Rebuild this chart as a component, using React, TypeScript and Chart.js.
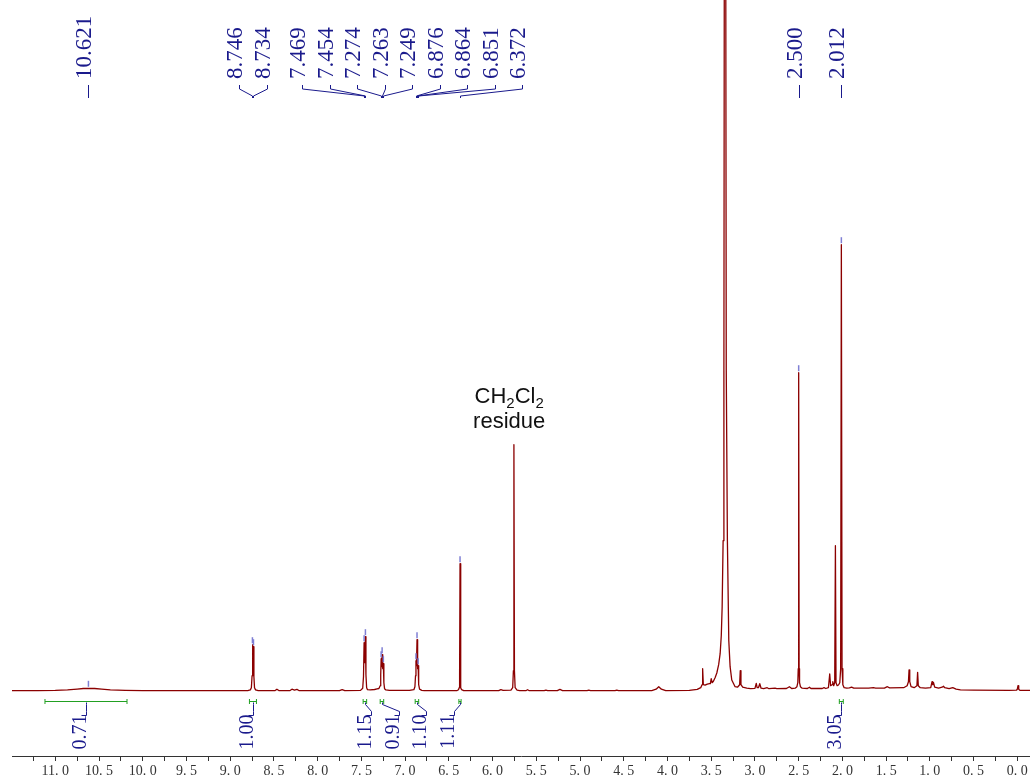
import React, { useEffect, useRef } from "react";
import { Chart, registerables } from "chart.js";

Chart.register(...registerables);

// ---------------- DATA ----------------
// Spectrum: [ppm, intensity]; intensity unit ~ 1 px above baseline
const REGION_DOWNFIELD: [number, number][] = [
  [11.6, 0], [11.2, 0], [11.0, 0.3], [10.86, 0.8], [10.75, 1.6], [10.68, 2.2], [10.62, 2.4],
  [10.55, 2.2], [10.47, 1.6], [10.37, 0.8], [10.2, 0.3], [10.0, 0], [9.0, 0],
];

const REGION_AROMATIC: [number, number][] = [
  [8.8, 0], [8.77, 0.8], [8.758, 3], [8.75, 15], [8.746, 46], [8.74, 30], [8.734, 44], [8.729, 14],
  [8.722, 3], [8.71, 0.8], [8.68, 0],
  [8.49, 0], [8.466, 1.5], [8.44, 0],
  [8.32, 0], [8.294, 1.5], [8.265, 0.6], [8.237, 1.3], [8.21, 0],
  [7.75, 0], [7.72, 1], [7.69, 0],
  [7.51, 0.3], [7.485, 2.5], [7.476, 14], [7.469, 48], [7.462, 28], [7.454, 54], [7.448, 16],
  [7.44, 3], [7.43, 1], [7.4, 0.8], [7.35, 1.2], [7.32, 1.8], [7.3, 2.2], [7.285, 5], [7.279, 16],
  [7.274, 32], [7.269, 24], [7.263, 36], [7.256, 22], [7.249, 27], [7.243, 8], [7.235, 2],
  [7.22, 0.8], [7.18, 0.3],
  [6.95, 0.3], [6.9, 1], [6.888, 4], [6.881, 15], [6.876, 30], [6.87, 25], [6.864, 51], [6.857, 22],
  [6.851, 25], [6.845, 6], [6.835, 1.5], [6.81, 0.4], [6.78, 0],
  [6.41, 0], [6.39, 1], [6.382, 3], [6.377, 18], [6.372, 127], [6.367, 18], [6.362, 3], [6.354, 1],
  [6.33, 0],
];

const REGION_MIDFIELD: [number, number][] = [
  [5.93, 0], [5.905, 1], [5.88, 0.3], [5.79, 0.6], [5.77, 3], [5.762, 20], [5.756, 246], [5.75, 20],
  [5.742, 3], [5.72, 0.5], [5.69, 0],
  [5.62, 0], [5.6, 1], [5.58, 0],
  [5.41, 0], [5.39, 0.5], [5.37, 0],
  [5.26, 0], [5.23, 1.3], [5.2, 0],
  [4.92, 0], [4.9, 0.5], [4.88, 0],
  [4.6, 0], [4.58, 0.5], [4.56, 0],
  [4.18, 0], [4.13, 1.5], [4.1, 4], [4.07, 1.5], [4.02, 0],
  [3.75, 0.3], [3.66, 1.3], [3.62, 3], [3.605, 6], [3.598, 22], [3.59, 6], [3.57, 5.5],
  [3.545, 6.5], [3.52, 7], [3.51, 7], [3.5, 12], [3.49, 8], [3.475, 9.5], [3.456, 13],
  [3.436, 17.7], [3.415, 26], [3.398, 37], [3.385, 55], [3.375, 84], [3.364, 150], [3.355, 320],
  [3.343, 1400], [3.328, 320], [3.315, 150], [3.299, 50], [3.284, 24], [3.265, 10.7], [3.227, 4],
  [3.2, 3.5], [3.175, 6], [3.168, 20], [3.16, 6], [3.14, 3.5],
];

const REGION_UPFIELD: [number, number][] = [
  [3.093, 2.5], [3.05, 2], [3.0, 2.3], [2.985, 7.4], [2.975, 3], [2.96, 3], [2.945, 7], [2.93, 2.5],
  [2.9, 2], [2.86, 3], [2.84, 2], [2.77, 2.5], [2.75, 2], [2.64, 2.2], [2.606, 4], [2.58, 2.2],
  [2.54, 2.5], [2.52, 4], [2.51, 8], [2.505, 22], [2.5, 318], [2.495, 22], [2.49, 8], [2.48, 4],
  [2.46, 2.5], [2.4, 2.2], [2.377, 3.5], [2.36, 2.2], [2.23, 2.2], [2.21, 3], [2.19, 2.2],
  [2.16, 3], [2.145, 16.7], [2.135, 5], [2.118, 6], [2.11, 9], [2.1, 5], [2.088, 8], [2.08, 145],
  [2.073, 8], [2.06, 5], [2.045, 5.7], [2.03, 8], [2.02, 22], [2.012, 446], [2.004, 22],
  [1.995, 6], [1.98, 3], [1.95, 2.5], [1.92, 2.8], [1.895, 3.5], [1.87, 2.5],
  [1.7, 2.5], [1.646, 3], [1.62, 2.5], [1.52, 2.6], [1.486, 4], [1.46, 2.8],
  [1.3, 3], [1.26, 5], [1.245, 9], [1.238, 20.7], [1.23, 9], [1.215, 4], [1.18, 3], [1.148, 5],
  [1.14, 18.4], [1.132, 5], [1.11, 3], [1.05, 2.5], [0.99, 3], [0.975, 9], [0.967, 6], [0.958, 8],
  [0.945, 3.5], [0.9, 2.5], [0.86, 3.5], [0.845, 4.5], [0.83, 3], [0.78, 2], [0.738, 3], [0.7, 1.5],
  [0.65, 0.8], [0.5, 0.5], [0.1, 0.3], [0.01, 0.5], [0.0, 1.5], [-0.008, 5], [-0.016, 1.5],
  [-0.03, 0.3], [-0.2, 0.3],
];

// Peak-pick labels (ppm)
const PEAK_LABELS: number[] = [
  10.621, 8.746, 8.734, 7.469, 7.454, 7.274, 7.263, 7.249, 6.876, 6.864, 6.851, 6.372, 2.5, 2.012,
];

// Integrals
const INTEGRAL_FROM: number[] = [11.118, 8.78, 7.48, 7.285, 6.885, 6.385, 2.035];
const INTEGRAL_TO: number[] = [10.18, 8.7, 7.44, 7.245, 6.845, 6.36, 1.99];
const INTEGRAL_VALUES: string[] = ["0.71", "1.00", "1.15", "0.91", "1.10", "1.11", "3.05"];

// Solvent annotation
const ANNOTATION_PPM = 5.81;
const ANNOTATION_PEAK_PPM = 5.756;

// Axis
const X_TICK_VALUES: number[] = [11, 10.5, 10, 9.5, 9, 8.5, 8, 7.5, 7, 6.5, 6, 5.5, 5, 4.5, 4, 3.5, 3, 2.5, 2, 1.5, 1, 0.5, 0];
const X_TICK_LABELS: string[] = [
  "11. 0", "10. 5", "10. 0", "9. 5", "9. 0", "8. 5", "8. 0", "7. 5", "7. 0", "6. 5", "6. 0", "5. 5",
  "5. 0", "4. 5", "4. 0", "3. 5", "3. 0", "2. 5", "2. 0", "1. 5", "1. 0", "0. 5", "0. 0",
];
const X_MIN = -0.145;
const X_MAX = 11.495;

// ---------------- STYLE ----------------
const SPECTRUM_COLOR = "#8b0000";
const NAVY = "#1a1a8c";
const MARKER = "#7f7fd4";
const GREEN = "#22a022";

const SPECTRUM = [...REGION_DOWNFIELD, ...REGION_AROMATIC, ...REGION_MIDFIELD, ...REGION_UPFIELD].map(
  ([x, y]) => ({ x, y })
);

function nearestHeight(ppm: number): number {
  let best = SPECTRUM[0];
  for (const p of SPECTRUM) if (Math.abs(p.x - ppm) < Math.abs(best.x - ppm)) best = p;
  return best.y;
}

// spread labels (px must be ascending)
function spreadLabels(px: number[], spacing: number, mergeGap: number): number[] {
  let groups = px.map((_, i) => ({ first: i, last: i }));
  const place = (g: { first: number; last: number }) => {
    const c = (px[g.first] + px[g.last]) / 2;
    const n = g.last - g.first + 1;
    return { start: c - ((n - 1) / 2) * spacing, end: c + ((n - 1) / 2) * spacing };
  };
  let merged = true;
  while (merged) {
    merged = false;
    for (let i = 0; i < groups.length - 1; i++) {
      const a = place(groups[i]);
      const b = place(groups[i + 1]);
      if (a.end + mergeGap > b.start) {
        groups.splice(i, 2, { first: groups[i].first, last: groups[i + 1].last });
        merged = true;
        break;
      }
    }
  }
  const out: number[] = [];
  groups.forEach((g) => {
    const { start } = place(g);
    for (let k = g.first; k <= g.last; k++) out.push(start + (k - g.first) * spacing);
  });
  return out;
}

const overlayPlugin = {
  id: "nmrOverlay",
  afterDatasetsDraw(chart: any) {
    const ctx: CanvasRenderingContext2D = chart.ctx;
    const xs = chart.scales.x;
    const ys = chart.scales.y;
    const base = ys.getPixelForValue(0);
    ctx.save();

    // peak markers
    ctx.strokeStyle = MARKER;
    ctx.lineWidth = 1.5;
    PEAK_LABELS.forEach((p) => {
      const x = xs.getPixelForValue(p);
      const y = ys.getPixelForValue(nearestHeight(p));
      ctx.beginPath();
      ctx.moveTo(x, y - 1.5);
      ctx.lineTo(x, y - 7.5);
      ctx.stroke();
    });

    // peak labels
    const peakPx = PEAK_LABELS.map((p) => xs.getPixelForValue(p));
    const labelPx = spreadLabels(peakPx, 27.5, 26);
    ctx.strokeStyle = NAVY;
    ctx.fillStyle = NAVY;
    ctx.lineWidth = 1;
    ctx.font = "23px 'Liberation Serif'";
    PEAK_LABELS.forEach((p, i) => {
      const lx = Math.round(labelPx[i]) + 0.5;
      const px = Math.round(peakPx[i]) + 0.5;
      ctx.beginPath();
      ctx.moveTo(lx, 85);
      ctx.lineTo(lx, 89);
      ctx.lineTo(px, 96);
      ctx.lineTo(px, 98);
      ctx.stroke();
      ctx.save();
      ctx.translate(lx - 3.5, 79);
      ctx.rotate(-Math.PI / 2);
      ctx.textAlign = "left";
      ctx.textBaseline = "middle";
      ctx.fillText(p.toFixed(3), 0, 0);
      ctx.restore();
    });

    // integrals
    const yInt = Math.round(base + 10) + 0.5;
    const intCenters = INTEGRAL_FROM.map((f, i) => xs.getPixelForValue((f + INTEGRAL_TO[i]) / 2));
    const intLabelPx = spreadLabels(intCenters, 27.5, 46);
    ctx.strokeStyle = GREEN;
    ctx.lineWidth = 1;
    INTEGRAL_FROM.forEach((f, i) => {
      const x1 = xs.getPixelForValue(f);
      const x2 = xs.getPixelForValue(INTEGRAL_TO[i]);
      ctx.beginPath();
      ctx.moveTo(x1, yInt);
      ctx.lineTo(x2, yInt);
      ctx.moveTo(x1, yInt - 2.5);
      ctx.lineTo(x1, yInt + 2.5);
      ctx.moveTo(x2, yInt - 2.5);
      ctx.lineTo(x2, yInt + 2.5);
      ctx.stroke();
    });
    ctx.strokeStyle = NAVY;
    ctx.fillStyle = NAVY;
    ctx.font = "20px 'Liberation Serif'";
    INTEGRAL_VALUES.forEach((v, i) => {
      const cx = Math.round(intCenters[i]) + 0.5;
      const lx = Math.round(intLabelPx[i]) + 0.5;
      ctx.beginPath();
      ctx.moveTo(cx, yInt + 1);
      ctx.lineTo(cx, yInt + 3);
      ctx.lineTo(lx, yInt + 10);
      ctx.lineTo(lx, yInt + 14);
      ctx.lineTo(lx - 5, yInt + 14);
      ctx.stroke();
      ctx.save();
      ctx.translate(lx - 6, yInt + 13);
      ctx.rotate(-Math.PI / 2);
      ctx.textAlign = "right";
      ctx.textBaseline = "middle";
      ctx.fillText(v, 0, 0);
      ctx.restore();
    });

    // solvent annotation
    const ax = xs.getPixelForValue(ANNOTATION_PPM);
    const peakTop = ys.getPixelForValue(nearestHeight(ANNOTATION_PEAK_PPM));
    const y2 = peakTop - 17;
    const y1 = y2 - 25;
    ctx.fillStyle = "#111";
    ctx.textBaseline = "alphabetic";
    ctx.textAlign = "left";
    const big = "22px 'Liberation Sans'";
    const small = "15px 'Liberation Sans'";
    const parts: [string, boolean][] = [["CH", false], ["2", true], ["Cl", false], ["2", true]];
    let total = 0;
    parts.forEach(([t, sub]) => {
      ctx.font = sub ? small : big;
      total += ctx.measureText(t).width;
    });
    let cur = ax - total / 2;
    parts.forEach(([t, sub]) => {
      ctx.font = sub ? small : big;
      ctx.fillText(t, cur, sub ? y1 + 5 : y1);
      cur += ctx.measureText(t).width;
    });
    ctx.font = big;
    ctx.textAlign = "center";
    ctx.fillText("residue", ax, y2);

    ctx.restore();
  },
};

export default function App() {
  const canvasRef = useRef<HTMLCanvasElement | null>(null);

  useEffect(() => {
    if (!canvasRef.current) return;
    const chart = new Chart(canvasRef.current, {
      type: "line",
      data: {
        datasets: [
          {
            data: SPECTRUM,
            borderColor: SPECTRUM_COLOR,
            borderWidth: 1.3,
            borderJoinStyle: "round",
            pointRadius: 0,
            tension: 0,
            fill: false,
          },
        ],
      },
      options: {
        animation: false,
        responsive: false,
        devicePixelRatio: 1,
        events: [],
        layout: { padding: { left: 12, right: 0, top: 0, bottom: 0 } },
        plugins: { legend: { display: false }, tooltip: { enabled: false } },
        scales: {
          x: {
            type: "linear",
            reverse: true,
            min: X_MIN,
            max: X_MAX,
            position: "bottom",
            border: { display: true, color: "#333", width: 1 },
            grid: { display: true, drawOnChartArea: false, drawTicks: true, tickLength: 5, color: "#333" },
            ticks: {
              stepSize: 0.25,
              includeBounds: false,
              autoSkip: false,
              maxRotation: 0,
              minRotation: 0,
              padding: 2,
              color: "#333",
              font: { family: "'Liberation Serif'", size: 14 },
              callback: (value: any) => {
                const i = X_TICK_VALUES.findIndex((v) => Math.abs(v - Number(value)) < 1e-6);
                return i >= 0 ? X_TICK_LABELS[i] : "";
              },
            },
            afterFit: (scale: any) => {
              scale.height = 26;
            },
          },
          y: {
            type: "linear",
            display: false,
            min: -65.3,
            max: 690.7,
          },
        },
      },
      plugins: [overlayPlugin],
    } as any);
    return () => chart.destroy();
  }, []);

  return (
    <div style={{ position: "fixed", left: 0, top: 0, width: 1030, height: 782, background: "#fff" }}>
      <canvas ref={canvasRef} width={1030} height={782} style={{ display: "block" }} />
    </div>
  );
}
